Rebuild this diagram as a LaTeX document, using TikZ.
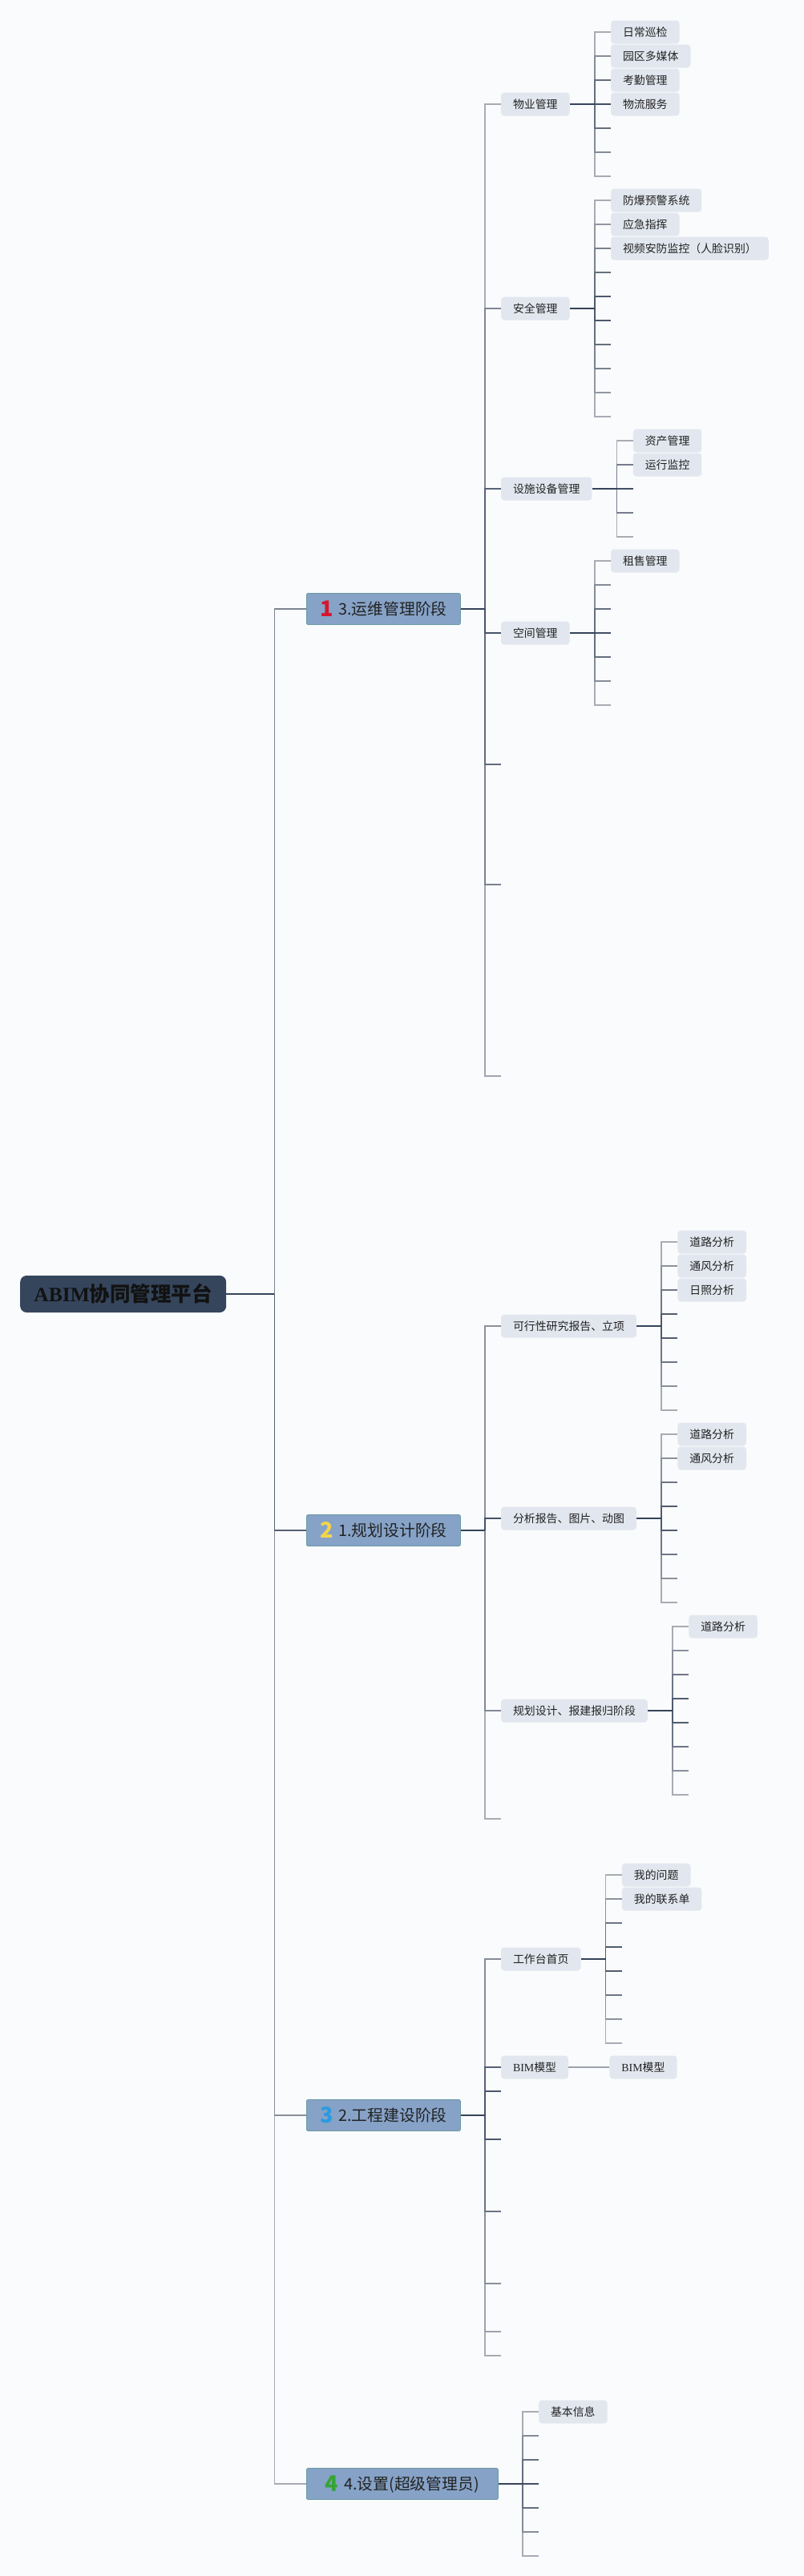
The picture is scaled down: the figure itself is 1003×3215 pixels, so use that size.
\documentclass[tikz,border=0pt]{standalone}
\usepackage{fontspec}
\setmainfont{Noto Sans CJK SC}
\newfontfamily\serifL{Liberation Serif}
\definecolor{bgc}{HTML}{FAFBFC}
\definecolor{lndark}{HTML}{34435A}
\definecolor{lnlight}{HTML}{A8ABB3}
\definecolor{leaffill}{HTML}{E2E7EF}
\definecolor{txt}{HTML}{222222}
\definecolor{lonefill}{HTML}{86A2C7}
\definecolor{loneedge}{HTML}{6B9BA5}
\definecolor{rootfill}{HTML}{35455C}
\definecolor{ic1}{HTML}{D6172B}
\definecolor{ic2}{HTML}{F2D54A}
\definecolor{ic3}{HTML}{2B9BE0}
\definecolor{ic4}{HTML}{35A535}
\tikzset{
  leaf/.style={anchor=west, fill=leaffill, rounded corners=4pt, inner xsep=15pt, inner ysep=0pt,
    minimum height=29pt, font=\fontsize{13.9}{16}\selectfont, text=txt, text height=11.5pt, text depth=0.9pt},
  lone/.style={anchor=west, fill=lonefill, draw=loneedge, line width=0.8pt, rounded corners=2pt,
    minimum height=39pt, inner xsep=0pt, inner ysep=0pt, font=\fontsize{19.8}{22}\selectfont,
    text=txt, text height=16.5pt, text depth=1.5pt},
  rootbox/.style={anchor=west, fill=rootfill, rounded corners=8pt, minimum width=257pt, minimum height=46pt,
    inner xsep=0pt, inner ysep=0pt, font=\fontsize{25.5}{28}\selectfont\bfseries, text=black!93,
    text height=21pt, text depth=1.6pt},
  cn/.style={line width=1.5pt},
  cnp/.style={line width=2pt, draw=lndark}
}
\newcommand\prio[2]{\raisebox{-1.5pt}{\fontsize{27}{27}\selectfont\bfseries\color{#1}#2}\hspace{7pt}}
% connector from junction of group #1 to child #2; #3 parent y, #4 max distance
\newcommand\conn[4]{%
  \edef\cy{\csname #1y#2\endcsname}%
  \edef\cf{\csname #1f#2\endcsname}%
  \pgfmathtruncatemacro\pc{min(100,12+88*(abs(\cy-#3)/#4))}%
  \ifnum\cf=1\relax
    \draw[cn,draw=lnlight!\pc!lndark] (#1J) |- (#1#2.west);
  \else
    \draw[cn,draw=lnlight!\pc!lndark] (#1J) |- (#1#2);
  \fi}
% group: #1 parent node, #2 gap to junction, #3 prefix, #4 parent y, #5 max distance, #6 list y/flag/text
\newcommand\grp[6]{%
  \path (#1.east) ++(#2,0) coordinate (#3J);
  \foreach \yy/\ff/\tx [count=\i] in {#6} {
    \ifnum\ff=1\relax
      \path (#3J |- 0,\yy) ++(20,0) node[leaf] (#3\i) {\tx};
    \else
      \path (#3J |- 0,\yy) ++(20,0) coordinate (#3\i);
    \fi
    \expandafter\xdef\csname #3y\i\endcsname{\yy}%
    \expandafter\xdef\csname #3f\i\endcsname{\ff}%
    \xdef\grpN{\i}%
  }
  \foreach \i in {1,...,\grpN} {
    \edef\cyy{\csname #3y\i\endcsname}%
    \ifdim\cyy pt<#4pt \conn{#3}{\i}{#4}{#5}\fi
  }
  \foreach \i in {\grpN,...,1} {
    \edef\cyy{\csname #3y\i\endcsname}%
    \ifdim\cyy pt<#4pt \else \conn{#3}{\i}{#4}{#5}\fi
  }
  \draw[cnp] (#1.east) -- (#3J);
}
\begin{document}
\begin{tikzpicture}[x=1pt,y=-1pt]
\fill[bgc] (0,0) rectangle (1003,3215);
\useasboundingbox (0,0) rectangle (1003,3215);

% root and level 1
\node[rootbox] (root) at (25,1615) {{\serifL\bfseries ABIM}协同管理平台};
\path (root.east) ++(60,0) coordinate (rootJ);
\node[lone, minimum width=192pt] (opsL) at (382,760) {\prio{ic1}{1}3.运维管理阶段};
\node[lone, minimum width=192pt] (planL) at (382,1910) {\prio{ic2}{2}1.规划设计阶段};
\node[lone, minimum width=192pt] (buildL) at (382,2640) {\prio{ic3}{3}2.工程建设阶段};
\node[lone, minimum width=239pt] (setL) at (382,3100) {\prio{ic4}{4}4.设置(超级管理员)};
\draw[cn, draw=lnlight!62!lndark] (rootJ) |- (opsL.west);
\draw[cn, draw=lnlight!100!lndark] (rootJ) |- (setL.west);
\draw[cn, draw=lnlight!72!lndark] (rootJ) |- (buildL.west);
\draw[cn, draw=lnlight!29!lndark] (rootJ) |- (planL.west);
\draw[cnp] (root.east) -- (rootJ);

% 3. operations stage
\grp{opsL}{30}{ops}{760}{630}{130/1/物业管理, 385/1/安全管理, 610/1/设施设备管理, 790/1/空间管理, 954/0/x, 1104/0/x, 1343/0/x}
\grp{ops1}{31}{opsa}{130}{90}{40/1/日常巡检, 70/1/园区多媒体, 100/1/考勤管理, 130/1/物流服务, 160/0/x, 190/0/x, 220/0/x}
\grp{ops2}{31}{opsb}{385}{135}{250/1/防爆预警系统, 280/1/应急指挥, 310/1/视频安防监控（人脸识别）, 340/0/x, 370/0/x, 400/0/x, 430/0/x, 460/0/x, 490/0/x, 520/0/x}
\grp{ops3}{31}{opsc}{610}{60}{550/1/资产管理, 580/1/运行监控, 610/0/x, 640/0/x, 670/0/x}
\grp{ops4}{31}{opsd}{790}{90}{700/1/租售管理, 730/0/x, 760/0/x, 790/0/x, 820/0/x, 850/0/x, 880/0/x}

% 1. planning stage
\grp{planL}{30}{plan}{1910}{360}{1655/1/可行性研究报告、立项, 1895/1/分析报告、图片、动图, 2135/1/规划设计、报建报归阶段, 2270/0/x}
\grp{plan1}{31}{plana}{1655}{105}{1550/1/道路分析, 1580/1/通风分析, 1610/1/日照分析, 1640/0/x, 1670/0/x, 1700/0/x, 1730/0/x, 1760/0/x}
\grp{plan2}{31}{planb}{1895}{105}{1790/1/道路分析, 1820/1/通风分析, 1850/0/x, 1880/0/x, 1910/0/x, 1940/0/x, 1970/0/x, 2000/0/x}
\grp{plan3}{31}{planc}{2135}{105}{2030/1/道路分析, 2060/0/x, 2090/0/x, 2120/0/x, 2150/0/x, 2180/0/x, 2210/0/x, 2240/0/x}

% 2. construction stage
\grp{buildL}{30}{build}{2640}{300}{2445/1/工作台首页, 2580/1/{\serifL BIM}模型, 2610/0/x, 2670/0/x, 2760/0/x, 2850/0/x, 2910/0/x, 2940/0/x}
\grp{build1}{31}{builda}{2445}{105}{2340/1/我的问题, 2370/1/我的联系单, 2400/0/x, 2430/0/x, 2460/0/x, 2490/0/x, 2520/0/x, 2550/0/x}
\path (build2.east) ++(51,0) node[leaf] (buildb1) {{\serifL BIM}模型};
\draw[cn, draw=lnlight!90!lndark] (build2.east) -- (buildb1.west);

% 4. settings
\grp{setL}{30}{set}{3100}{90}{3010/1/基本信息, 3040/0/x, 3070/0/x, 3100/0/x, 3130/0/x, 3160/0/x, 3190/0/x}
\end{tikzpicture}
\end{document}
